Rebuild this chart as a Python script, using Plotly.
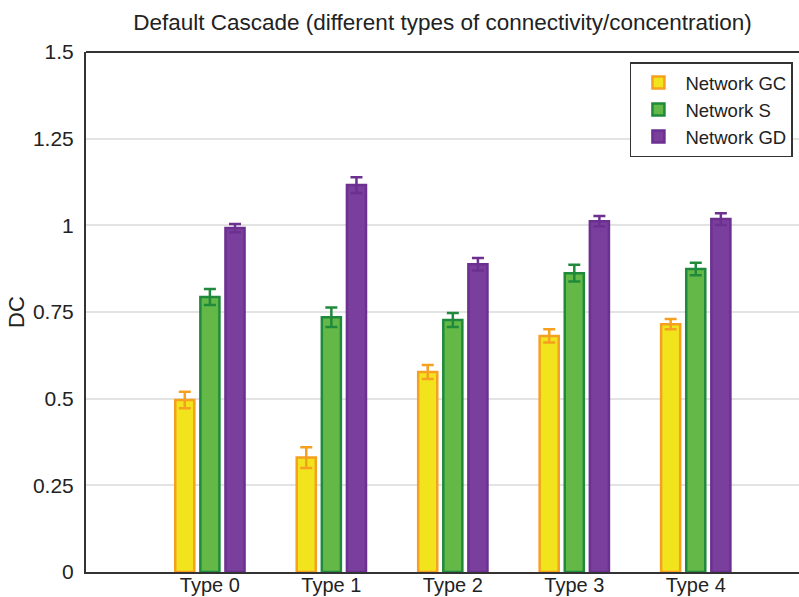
import plotly.graph_objects as go

# Categories and measured default-cascade values with error half-widths
categories = ["Type 0", "Type 1", "Type 2", "Type 3", "Type 4"]
positions = [0, 1, 2, 3, 4]

gc_values = [0.496, 0.330, 0.577, 0.681, 0.715]
gc_errors = [0.024, 0.030, 0.020, 0.019, 0.015]

s_values = [0.793, 0.735, 0.727, 0.862, 0.874]
s_errors = [0.023, 0.028, 0.020, 0.024, 0.018]

gd_values = [0.992, 1.116, 0.888, 1.012, 1.018]
gd_errors = [0.012, 0.023, 0.018, 0.015, 0.017]

y_ticks = [0, 0.25, 0.5, 0.75, 1, 1.25, 1.5]
y_tick_labels = ["0", "0.25", "0.5", "0.75", "1", "1.25", "1.5"]

series = [
    ("Network GC", gc_values, gc_errors, "#f2e41c", "#f5a020", "#f5a020"),
    ("Network S", s_values, s_errors, "#63b847", "#1f8a3c", "#1f8a3c"),
    ("Network GD", gd_values, gd_errors, "#7a3f9d", "#6b3090", "#6b3090"),
]

fig = go.Figure()
for name, vals, errs, fill, line, ecolor in series:
    fig.add_trace(go.Bar(
        name=name,
        x=positions,
        y=vals,
        marker=dict(color=fill, line=dict(color=line, width=2.5)),
        error_y=dict(type="data", array=errs, visible=True,
                     color=ecolor, thickness=2.5, width=6),
    ))

fig.update_layout(
    width=799,
    height=597,
    margin=dict(l=86, r=0, t=52, b=25),
    paper_bgcolor="white",
    plot_bgcolor="white",
    barmode="group",
    bargap=0.38,
    bargroupgap=0.24,
    font=dict(family="Liberation Sans, Arial, sans-serif", color="#222222"),
    title=dict(
        text="Default Cascade (different types of connectivity/concentration)",
        x=0.5, xanchor="center", xref="paper",
        y=0.963, yanchor="middle", yref="container",
        font=dict(size=22.5, color="#222222"),
    ),
    legend=dict(
        x=0.9915, xanchor="right", y=0.98, yanchor="top",
        bgcolor="white",
        bordercolor="#333333", borderwidth=1.5,
        font=dict(size=18.5, color="#222222"),
        itemwidth=44,
        tracegroupgap=0,
    ),
    showlegend=True,
)

fig.update_xaxes(
    range=[-1.02, 4.85],
    tickmode="array",
    tickvals=positions,
    ticktext=categories,
    tickfont=dict(size=20, color="#222222"),
    ticklabelstandoff=-6,
    automargin=False,
    showgrid=False,
    showline=True, linecolor="#333333", linewidth=2,
    ticks="", zeroline=False,
    mirror=False,
)

fig.update_yaxes(
    range=[0, 1.5],
    tickmode="array",
    tickvals=y_ticks,
    ticktext=y_tick_labels,
    tickfont=dict(size=21, color="#222222"),
    ticklabelstandoff=6,
    automargin=False,
    title=dict(text="DC", font=dict(size=22, color="#222222"), standoff=2),
    showgrid=True, gridcolor="#e3e3e3", gridwidth=1.5,
    showline=True, linecolor="#333333", linewidth=2,
    ticks="", zeroline=False,
    mirror=False,
)

# Frame line across the top of the plotting area
fig.add_shape(type="line", xref="paper", yref="paper",
              x0=0, x1=1, y0=1, y1=1,
              line=dict(color="#333333", width=2))

fig.write_html("out.html")
